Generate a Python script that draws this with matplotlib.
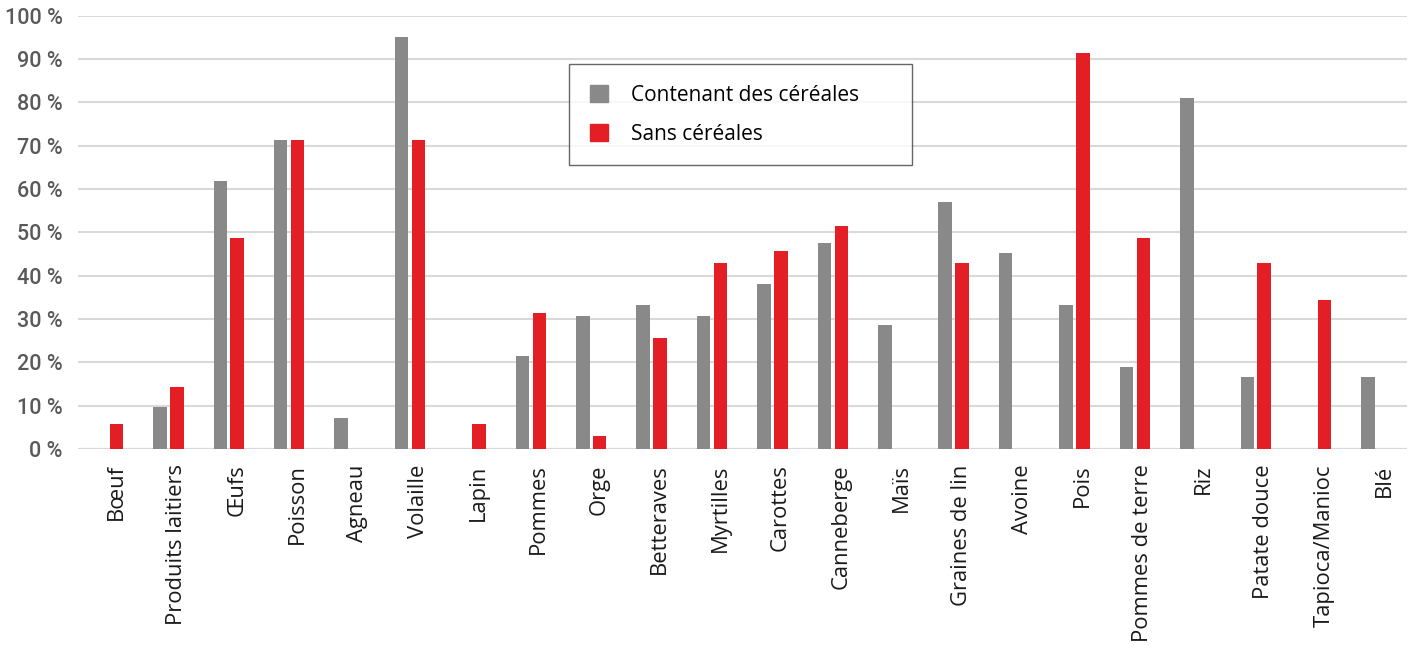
import matplotlib
matplotlib.use("Agg")
import matplotlib.pyplot as plt
import matplotlib.transforms as mtransforms
from matplotlib.patches import Patch
import numpy as np

categories = ["Bœuf", "Produits laitiers", "Œufs", "Poisson", "Agneau", "Volaille",
              "Lapin", "Pommes", "Orge", "Betteraves", "Myrtilles", "Carottes",
              "Canneberge", "Maïs", "Graines de lin", "Avoine", "Pois",
              "Pommes de terre", "Riz", "Patate douce", "Tapioca/Manioc", "Blé"]
avec_cereales = [0, 9.6, 61.9, 71.4, 7.1, 95.2, 0, 21.4, 30.8, 33.3, 30.8, 38.1,
                 47.6, 28.6, 57.1, 45.2, 33.3, 19.0, 81.0, 16.7, 0, 16.7]
sans_cereales = [5.7, 14.3, 48.6, 71.4, 0, 71.4, 5.7, 31.4, 2.9, 25.7, 42.9, 45.7,
                 51.4, 0, 42.9, 0, 91.4, 48.6, 0, 42.9, 34.3, 0]
yticks = [0, 10, 20, 30, 40, 50, 60, 70, 80, 90, 100]
ytick_labels = [f"{v} %" for v in yticks]
series_names = ["Contenant des céréales", "Sans céréales"]

GRAY = "#898989"
RED = "#e31e24"

fig = plt.figure(figsize=(14.11, 6.49), dpi=100)
ax = fig.add_axes([0.0551, 0.3082, 0.9419, 0.6676])

x = np.arange(len(categories))
w = 0.223
off = 0.14
g = [v if v > 0 else np.nan for v in avec_cereales]
r = [v if v > 0 else np.nan for v in sans_cereales]
ax.bar(x - off, g, width=w, color=GRAY, zorder=3)
ax.bar(x + off, r, width=w, color=RED, zorder=3)

ax.set_xlim(-0.5, len(categories) - 0.5)
ax.set_ylim(0, 100)
ax.set_yticks(yticks)
ax.set_yticklabels(ytick_labels, family=["DejaVu Sans Condensed", "Roboto", "DejaVu Sans"],
                   fontsize=15.5, color="#595959", weight="medium")
ax.yaxis.grid(True, color="#d9d9d9", linewidth=1.5, zorder=0)
ax.set_axisbelow(True)
for s in ax.spines.values():
    s.set_visible(False)
ax.axhline(0, color="#d9d9d9", linewidth=1.5, zorder=1)
ax.tick_params(axis="y", length=0, pad=11)
ax.tick_params(axis="x", length=0, pad=11)

ax.set_xticks(x)
ax.set_xticklabels(categories, rotation=90, ha="center", va="top",
                   family=["Open Sans", "DejaVu Sans"], fontsize=15.8, color="#1a1a1a")
offset = mtransforms.ScaledTranslation(8 / 100, 0, fig.dpi_scale_trans)
for lab in ax.get_xticklabels():
    lab.set_transform(lab.get_transform() + offset)

handles = [Patch(color=GRAY), Patch(color=RED)]
x0 = (569 - 77.8) / 1329.0
wd = (912 - 569) / 1329.0
ytop = (449 - 64) / 433.3
ht = (156 - 64) / 433.3
leg = ax.legend(handles, series_names, loc="upper left", mode="expand",
                bbox_to_anchor=(x0, ytop - ht, wd, ht),
                prop={"family": ["Open Sans", "DejaVu Sans"], "size": 15},
                frameon=True, fancybox=False, edgecolor="#404040",
                handlelength=0.87, handleheight=0.87, handletextpad=1.1,
                borderpad=1.0, labelspacing=0.85, borderaxespad=0)
leg.get_frame().set_linewidth(1.0)
leg.set_zorder(5)

fig.savefig("out.png", dpi=100, facecolor="white")
